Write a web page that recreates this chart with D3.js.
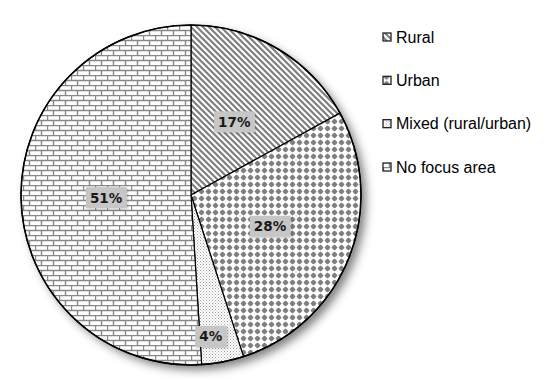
<!DOCTYPE html>
<html><head><meta charset="utf-8">
<script src="https://cdn.jsdelivr.net/npm/d3@7"></script>
<style>html,body{margin:0;padding:0;background:#fff;}</style>
</head><body>
<script>
const categories = ["Rural", "Urban", "Mixed (rural/urban)", "No focus area"];
const values = [17, 28, 4, 51];
const labels = ["17%", "28%", "4%", "51%"];
const patternIds = ["pRural", "pUrban", "pMixed", "pNone"];

const W = 550, H = 380;
const cx = 191, cy = 195, R = 170;

const svg = d3.select("body").append("svg").attr("width", W).attr("height", H);
const defs = svg.append("defs");

// Patterns
const grey = "#7f7f7f";
let p = defs.append("pattern").attr("id", "pRural").attr("patternUnits", "userSpaceOnUse")
  .attr("width", 6).attr("height", 6);
p.append("rect").attr("width", 6).attr("height", 6).attr("fill", "#fff");
p.append("path").attr("d", "M-1,-1 L7,7 M-4,2 L4,10 M2,-4 L10,4").attr("stroke", grey).attr("stroke-width", 2.2);

p = defs.append("pattern").attr("id", "pUrban").attr("patternUnits", "userSpaceOnUse")
  .attr("width", 7).attr("height", 7);
p.append("rect").attr("width", 7).attr("height", 7).attr("fill", "#fff");
p.append("path").attr("d", "M3.5,0.5 L6.5,3.5 L3.5,6.5 L0.5,3.5 Z").attr("fill", grey);
p.append("circle").attr("cx", 3.5).attr("cy", 3.5).attr("r", 2.3).attr("fill", grey);

p = defs.append("pattern").attr("id", "pMixed").attr("patternUnits", "userSpaceOnUse")
  .attr("width", 3).attr("height", 3);
p.append("rect").attr("width", 3).attr("height", 3).attr("fill", "#fff");
p.append("rect").attr("x", 0).attr("y", 0).attr("width", 1).attr("height", 1).attr("fill", "#a0a0a0");
p.append("rect").attr("x", 1.5).attr("y", 1.5).attr("width", 1).attr("height", 1).attr("fill", "#b0b0b0");

p = defs.append("pattern").attr("id", "pNone").attr("patternUnits", "userSpaceOnUse")
  .attr("width", 12).attr("height", 10);
p.append("rect").attr("width", 12).attr("height", 10).attr("fill", "#fff");
p.append("path").attr("d", "M0,0.5 H12 M0,5.5 H12 M0.5,0 V5 M6.5,5 V10")
  .attr("stroke", "#888").attr("stroke-width", 1.4).attr("fill", "none");

// Shadow filter
const f = defs.append("filter").attr("id", "shadow").attr("x", "-20%").attr("y", "-20%")
  .attr("width", "140%").attr("height", "140%");
f.append("feDropShadow").attr("dx", 5).attr("dy", 5).attr("stdDeviation", 5)
  .attr("flood-color", "#000").attr("flood-opacity", 0.5);
const f2 = defs.append("filter").attr("id", "lshadow").attr("x", "-20%").attr("y", "-20%")
  .attr("width", "140%").attr("height", "140%");
f2.append("feDropShadow").attr("dx", 1).attr("dy", 1).attr("stdDeviation", 1)
  .attr("flood-color", "#000").attr("flood-opacity", 0.25);

const g = svg.append("g").attr("transform", `translate(${cx},${cy})`);

g.append("circle").attr("r", R).attr("fill", "#fff").attr("filter", "url(#shadow)");

const pie = d3.pie().sort(null).value(d => d)(values);
const arc = d3.arc().innerRadius(0).outerRadius(R);

g.selectAll("path.slice").data(pie).join("path").attr("class", "slice")
  .attr("d", arc)
  .attr("fill", (d, i) => `url(#${patternIds[i]})`)
  .attr("stroke", "#000").attr("stroke-width", 1.2).attr("stroke-linejoin", "round");

g.append("circle").attr("r", R).attr("fill", "none").attr("stroke", "#000").attr("stroke-width", 1.5);

// Labels
const labelGroups = g.selectAll("g.lbl").data(pie).join("g").attr("class", "lbl")
  .attr("transform", d => {
    const small = d.value < 5;
    const lr = small ? R * 0.84 : R * 0.5;
    const a = (d.startAngle + d.endAngle) / 2 + (small ? 0.05 : 0);
    return `translate(${Math.sin(a) * lr},${-Math.cos(a) * lr})`;
  });
labelGroups.each(function(d, i) {
  const sel = d3.select(this);
  const t = sel.append("text").text(labels[i])
    .attr("text-anchor", "middle").attr("dy", "0.36em")
    .attr("font-family", "DejaVu Sans, Verdana, sans-serif").attr("font-weight", "bold")
    .attr("font-size", 13.5).attr("fill", "#1a1a1a");
  const bb = t.node().getBBox();
  sel.insert("rect", "text")
    .attr("x", bb.x - 4).attr("y", -10.5).attr("width", bb.width + 8).attr("height", 21)
    .attr("fill", "#c6c6c6").attr("filter", "url(#lshadow)");
});

// Legend
const legendY = d3.scalePoint().domain(categories).range([37, 167]);
const lg = svg.append("g");
const items = lg.selectAll("g").data(categories).join("g")
  .attr("transform", d => `translate(383,${legendY(d)})`);
items.append("rect").attr("x", 0).attr("y", -4).attr("width", 8).attr("height", 8)
  .attr("fill", (d, i) => `url(#${patternIds[i]})`).attr("stroke", "#222").attr("stroke-width", 1.3);
items.append("text").attr("x", 13).attr("dy", "0.36em").text(d => d)
  .attr("font-family", "Liberation Sans, Arial, sans-serif").attr("font-size", 16).attr("fill", "#000");
</script>
</body></html>
